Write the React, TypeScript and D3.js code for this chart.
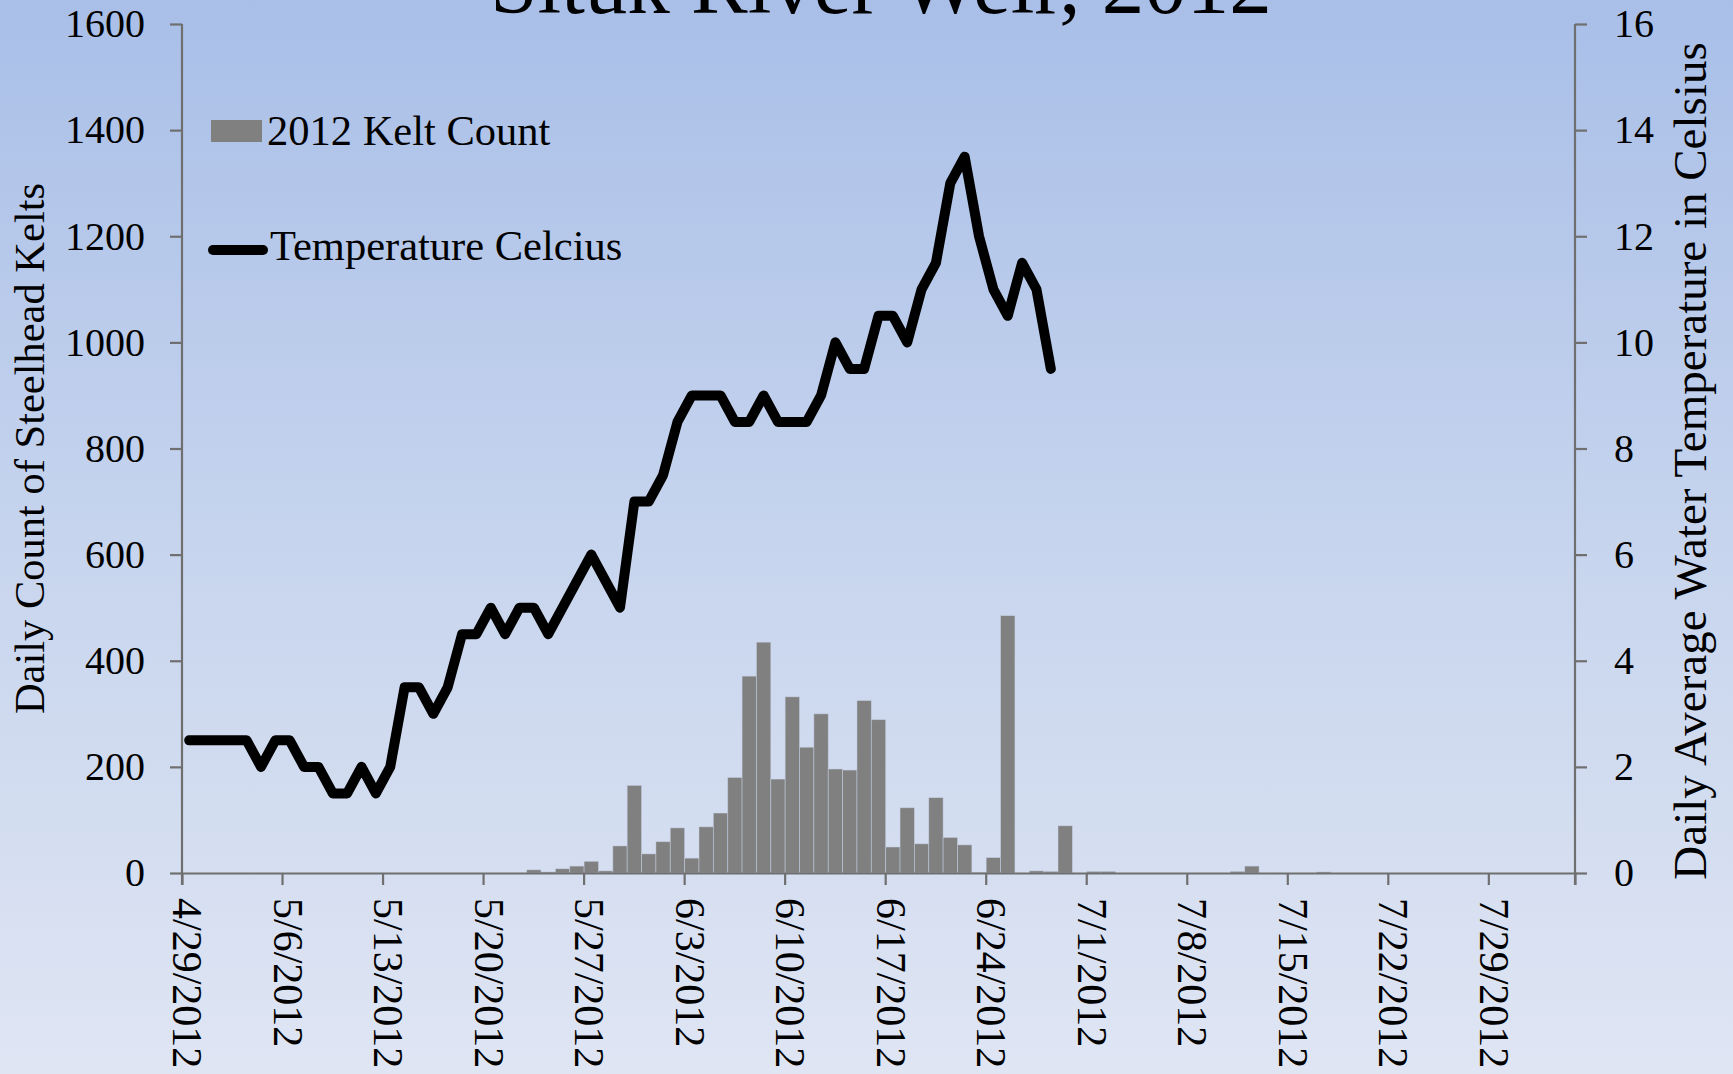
import React, { useEffect, useRef } from 'react';
import * as d3 from 'd3';

// daily kelt counts, 4/29/2012 .. 8/3/2012
const keltCounts = [
  0, 0, 0, 0, 0, 0, 0, 0, 0, 0, 0, 0, 0, 0, 0, 0, 0, 0, 0, 0, 0, 0, 0, 0,
  6, 2, 8, 13, 22, 4, 51, 165, 36, 59, 85, 28, 87, 113, 180, 371, 435, 177,
  332, 237, 300, 196, 194, 325, 289, 49, 123, 55, 142, 67, 53, 1, 29, 485, 0,
  4, 3, 89, 0, 3, 3, 0, 0, 0, 0, 0, 0, 0, 0, 3, 13, 0, 0, 0, 0, 2, 0, 0, 0, 0,
  0, 0, 0, 0, 0, 0, 0, 0, 0, 0, 0, 0, 0,
];

// daily average water temperature, starting 4/29/2012
const temperature = [
  2.5, 2.5, 2.5, 2.5, 2.5, 2.0, 2.5, 2.5, 2.0, 2.0, 1.5, 1.5, 2.0, 1.5, 2.0,
  3.5, 3.5, 3.0, 3.5, 4.5, 4.5, 5.0, 4.5, 5.0, 5.0, 4.5, 5.0, 5.5, 6.0, 5.5,
  5.0, 7.0, 7.0, 7.5, 8.5, 9.0, 9.0, 9.0, 8.5, 8.5, 9.0, 8.5, 8.5, 8.5, 9.0,
  10.0, 9.5, 9.5, 10.5, 10.5, 10.0, 11.0, 11.5, 13.0, 13.5, 12.0, 11.0, 10.5,
  11.5, 11.0, 9.5,
];

const countTicks = [0, 200, 400, 600, 800, 1000, 1200, 1400, 1600];
const tempTicks = [0, 2, 4, 6, 8, 10, 12, 14, 16];

const days = d3.timeDay.range(new Date(2012, 3, 29), new Date(2012, 7, 4));
const fmt = d3.timeFormat('%-m/%-d/%Y');
const dayLabels = days.map((d) => fmt(d));
const labelDays = dayLabels.filter((_, i) => i % 7 === 0);

const FONT = '"Liberation Serif", "Times New Roman", serif';

function App() {
  const ref = useRef<SVGSVGElement>(null);

  useEffect(() => {
    const W = 1733;
    const H = 1074;
    const margin = { top: 24, left: 182, right: 158, bottom: 201 };
    const innerW = W - margin.left - margin.right;
    const innerH = H - margin.top - margin.bottom;

    const svg = d3.select(ref.current);
    svg.selectAll('*').remove();

    // background gradient
    const defs = svg.append('defs');
    const grad = defs
      .append('linearGradient')
      .attr('id', 'bg')
      .attr('x1', '0%')
      .attr('y1', '0%')
      .attr('x2', '0%')
      .attr('y2', '100%');
    grad.append('stop').attr('offset', '0%').attr('stop-color', '#a9bfe8');
    grad.append('stop').attr('offset', '55%').attr('stop-color', '#c9d6ee');
    grad.append('stop').attr('offset', '100%').attr('stop-color', '#dfe5f3');
    svg.append('rect').attr('width', W).attr('height', H).attr('fill', 'url(#bg)');

    const g = svg
      .append('g')
      .attr('transform', `translate(${margin.left},${margin.top})`);

    const x = d3.scaleBand().domain(dayLabels).range([0, innerW]).padding(0);
    const yCount = d3.scaleLinear().domain([0, 1600]).range([innerH, 0]);
    const yTemp = d3.scaleLinear().domain([0, 16]).range([innerH, 0]);

    // bars
    g.selectAll('rect.bar')
      .data(keltCounts)
      .enter()
      .append('rect')
      .attr('class', 'bar')
      .attr('x', (_, i) => x(dayLabels[i]) as number)
      .attr('y', (d) => yCount(d))
      .attr('width', x.bandwidth())
      .attr('height', (d) => innerH - yCount(d))
      .attr('fill', '#808080')
      .attr('stroke', (d) => (d > 0 ? 'rgba(200,210,230,0.6)' : 'none'))
      .attr('stroke-width', 0.8);

    const axisColor = '#6f6f6f';

    // left axis
    const left = g
      .append('g')
      .call(
        d3
          .axisLeft(yCount)
          .tickValues(countTicks)
          .tickFormat(d3.format('d'))
          .tickSize(12)
          .tickPadding(25),
      );
    // right axis
    const right = g
      .append('g')
      .attr('transform', `translate(${innerW},0)`)
      .call(
        d3
          .axisRight(yTemp)
          .tickValues(tempTicks)
          .tickFormat(d3.format('d'))
          .tickSize(12)
          .tickPadding(27),
      );
    // bottom axis
    const bottom = g
      .append('g')
      .attr('transform', `translate(0,${innerH})`)
      .call(
        d3
          .axisBottom(x)
          .tickValues(labelDays)
          .tickSize(12)
          .tickFormat((d) => d as string),
      );

    [left, right, bottom].forEach((ax) => {
      ax.select('.domain').attr('stroke', axisColor).attr('stroke-width', 2.2);
      ax.selectAll('.tick line').attr('stroke', axisColor).attr('stroke-width', 2.2);
      ax.selectAll('text')
        .attr('fill', '#000')
        .style('font-family', FONT)
        .style('font-size', '40px');
    });
    left.select('.domain').attr('d', `M0,0V${innerH}`);
    right.select('.domain').attr('d', `M0,0V${innerH}`);

    // shift bottom ticks to band edges, rotate labels
    bottom.selectAll('.tick').attr('transform', (d) => `translate(${x(d as string)},0)`);
    bottom
      .selectAll('.tick text')
      .attr('transform', 'translate(-9,25) rotate(90)')
      .attr('x', 0)
      .attr('y', 0)
      .attr('dy', 0)
      .style('font-size', '42px')
      .style('text-anchor', 'start');
    bottom
      .append('line')
      .attr('x1', innerW)
      .attr('x2', innerW)
      .attr('y1', 0)
      .attr('y2', 12)
      .attr('stroke', axisColor)
      .attr('stroke-width', 2.2);

    // temperature line
    const line = d3
      .line<number>()
      .x((_, i) => (x(dayLabels[i]) as number) + x.bandwidth() / 2)
      .y((d) => yTemp(d));
    g.append('path')
      .datum(temperature)
      .attr('d', line)
      .attr('fill', 'none')
      .attr('stroke', '#000')
      .attr('stroke-width', 10)
      .attr('stroke-linejoin', 'round')
      .attr('stroke-linecap', 'round');

    // title (overflows top edge, as in the original slide)
    svg
      .append('text')
      .attr('x', 881)
      .attr('y', 13)
      .attr('text-anchor', 'middle')
      .style('font-family', FONT)
      .style('font-size', '85px')
      .text('Situk River Weir, 2012');

    // axis titles
    svg
      .append('text')
      .attr('transform', `translate(44,${margin.top + innerH / 2}) rotate(-90)`)
      .attr('text-anchor', 'middle')
      .style('font-family', FONT)
      .style('font-size', '42.5px')
      .text('Daily Count of Steelhead Kelts');
    svg
      .append('text')
      .attr('transform', `translate(1706,461) rotate(-90)`)
      .attr('text-anchor', 'middle')
      .style('font-family', FONT)
      .style('font-size', '47px')
      .text('Daily Average Water Temperature in Celsius');

    // legend
    const legend = svg.append('g');
    legend
      .append('rect')
      .attr('x', 211)
      .attr('y', 120)
      .attr('width', 51)
      .attr('height', 22)
      .attr('fill', '#808080');
    legend
      .append('text')
      .attr('x', 267)
      .attr('y', 145)
      .style('font-family', FONT)
      .style('font-size', '42.5px')
      .text('2012 Kelt Count');
    legend
      .append('line')
      .attr('x1', 213)
      .attr('x2', 263)
      .attr('y1', 250)
      .attr('y2', 250)
      .attr('stroke', '#000')
      .attr('stroke-width', 10)
      .attr('stroke-linecap', 'round');
    legend
      .append('text')
      .attr('x', 270)
      .attr('y', 260)
      .style('font-family', FONT)
      .style('font-size', '42.5px')
      .text('Temperature Celcius');
  }, []);

  return (
    <svg
      ref={ref}
      width={1733}
      height={1074}
      style={{ position: 'absolute', left: 0, top: 0, display: 'block' }}
    />
  );
}

export default App;
